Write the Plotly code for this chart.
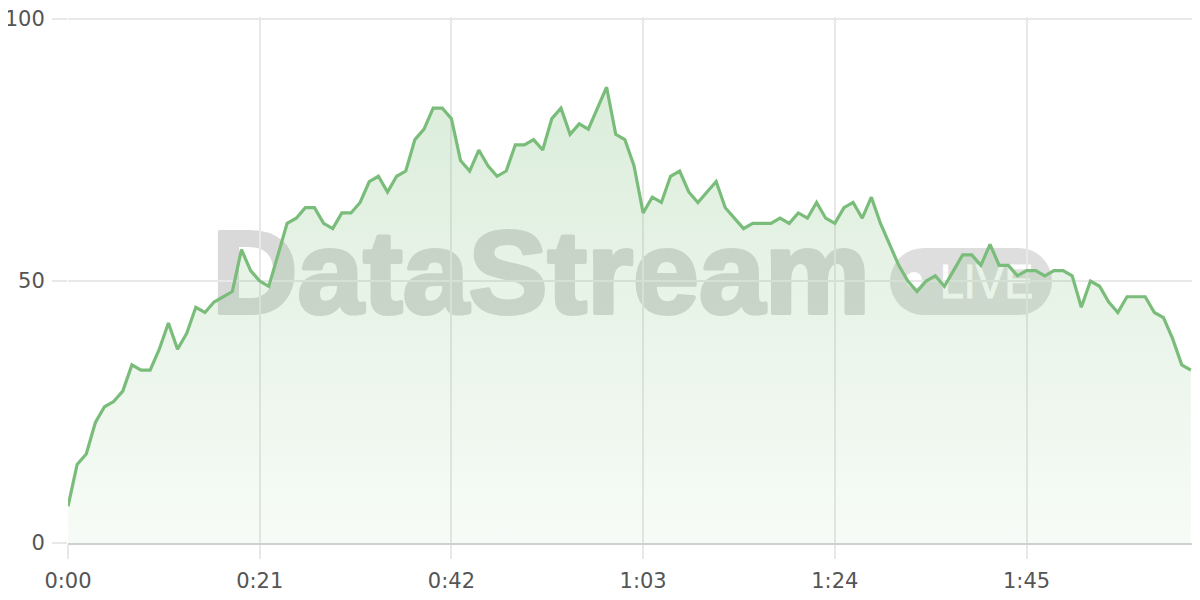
import base64
import plotly.graph_objects as go

# ---- data (one sample per second) ----
seconds = list(range(124))
values = [
    7, 15, 17, 23, 26, 27, 29, 34, 33, 33,
    37, 42, 37, 40, 45, 44, 46, 47, 48, 56,
    52, 50, 49, 55, 61, 62, 64, 64, 61, 60,
    63, 63, 65, 69, 70, 67, 70, 71, 77, 79,
    83, 83, 81, 73, 71, 75, 72, 70, 71, 76,
    76, 77, 75, 81, 83, 78, 80, 79, 83, 87,
    78, 77, 72, 63, 66, 65, 70, 71, 67, 65,
    67, 69, 64, 62, 60, 61, 61, 61, 62, 61,
    63, 62, 65, 62, 61, 64, 65, 62, 66, 61,
    57, 53, 50, 48, 50, 51, 49, 52, 55, 55,
    53, 57, 53, 53, 51, 52, 52, 51, 52, 52,
    51, 45, 50, 49, 46, 44, 47, 47, 47, 44,
    43, 39, 34, 33,
]
x_tick_vals = [0, 21, 42, 63, 84, 105]
x_tick_text = ["0:00", "0:21", "0:42", "1:03", "1:24", "1:45"]
y_tick_vals = [0, 50, 100]

LINE = "rgb(122,189,122)"
GRID = "#e8e8e8"
FONT = "DejaVu Sans, Open Sans, sans-serif"

fig = go.Figure()
fig.add_trace(go.Scatter(
    x=seconds, y=values, mode="lines",
    line=dict(color=LINE, width=3.2),
    fill="tozeroy",
    fillgradient=dict(
        type="vertical",
        start=0, stop=100,
        colorscale=[[0, "rgba(122,189,122,0.06)"], [1, "rgba(122,189,122,0.30)"]],
    ),
    hoverinfo="skip",
))

# watermark as svg image laid under the traces (plot area 1132 x 526)
svg = """<svg xmlns='http://www.w3.org/2000/svg' width='1132' height='526' viewBox='0 0 1132 526'>
<g opacity='0.28'>
<text x='144' y='296' font-family='Liberation Sans, Arial, sans-serif' font-weight='900' font-size='116'
 textLength='658' lengthAdjust='spacingAndGlyphs' fill='#7a7a7a' stroke='#7a7a7a' stroke-width='4'
 stroke-linejoin='round'>DataStream</text>
<rect x='822' y='231' width='162' height='67' rx='33.5' ry='33.5' fill='#8a8a8a'/>
</g>
<g opacity='1'>
<circle cx='846' cy='263' r='8' fill='#ffffff'/>
<text x='872' y='281' font-family='Liberation Sans, Arial, sans-serif' font-size='48'
 textLength='93' lengthAdjust='spacingAndGlyphs' fill='#ffffff' stroke='#ffffff' stroke-width='1'>LIVE</text>
</g>
</svg>"""
uri = "data:image/svg+xml;base64," + base64.b64encode(svg.encode("utf-8")).decode("ascii")
fig.add_layout_image(dict(
    source=uri, xref="paper", yref="paper", x=0, y=1, sizex=1, sizey=1,
    xanchor="left", yanchor="top", sizing="stretch", layer="below",
))

# page has an 8px body margin, so the figure is 1192x592
fig.update_layout(
    width=1192, height=592,
    margin=dict(l=60, r=0, t=9, b=57),
    paper_bgcolor="white", plot_bgcolor="white",
    showlegend=False,
    font=dict(family=FONT, size=21, color="#555555"),
    xaxis=dict(
        range=[0, 124], tickvals=x_tick_vals, ticktext=x_tick_text,
        showgrid=True, gridcolor=GRID, gridwidth=1.5,
        ticks="outside", ticklen=14, tickcolor=GRID, tickwidth=1.5,
        showline=True, linecolor="#cfcfcf", linewidth=2,
        zeroline=False, ticklabelstandoff=4, automargin=False,
    ),
    yaxis=dict(
        range=[0, 100.4], tickvals=y_tick_vals,
        showgrid=True, gridcolor=GRID, gridwidth=1.5,
        ticks="outside", ticklen=15, tickcolor=GRID, tickwidth=1.5,
        showline=False, zeroline=False, ticklabelstandoff=3, automargin=False,
        ticklabeloverflow="allow",
    ),
)

fig.write_html("out.html")
